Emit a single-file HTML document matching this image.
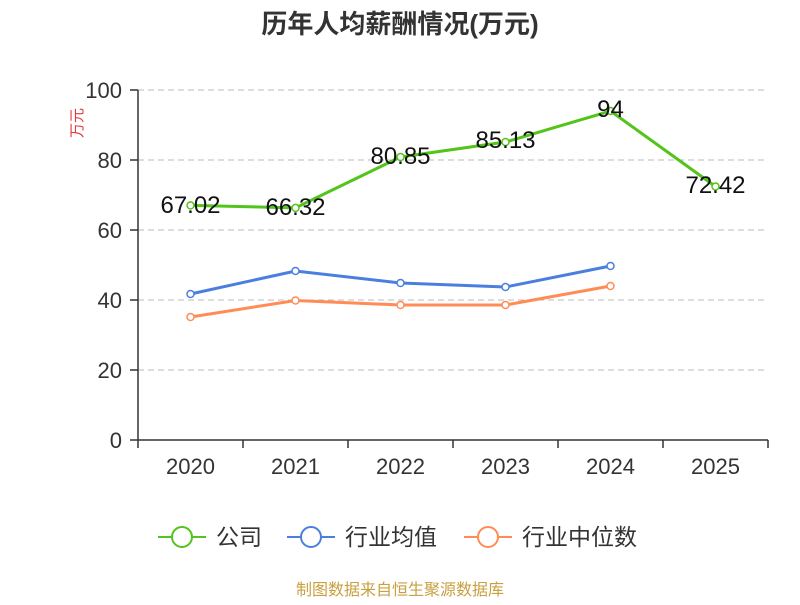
<!DOCTYPE html>
<html><head><meta charset="utf-8"><style>body{margin:0;background:#fff}</style></head><body>
<svg width="800" height="600" xmlns="http://www.w3.org/2000/svg" font-family="Liberation Sans, Noto Sans CJK SC, sans-serif">
<text x="400" y="33" text-anchor="middle" font-size="26" font-weight="bold" fill="#333">历年人均薪酬情况(万元)</text>
<text transform="translate(82,123) rotate(-90)" text-anchor="middle" font-size="15" fill="#e0393e">万元</text>
<g stroke="#bbb" stroke-dasharray="6,4">
<line x1="138" x2="768" y1="90" y2="90"/><line x1="138" x2="768" y1="160" y2="160"/><line x1="138" x2="768" y1="230" y2="230"/><line x1="138" x2="768" y1="300" y2="300"/><line x1="138" x2="768" y1="370" y2="370"/>
</g>
<g stroke="#333" stroke-width="1.5">
<line x1="138" x2="138" y1="90" y2="440"/><line x1="138" x2="768" y1="440" y2="440"/>
<line x1="130" x2="138" y1="90" y2="90"/><line x1="130" x2="138" y1="160" y2="160"/><line x1="130" x2="138" y1="230" y2="230"/><line x1="130" x2="138" y1="300" y2="300"/><line x1="130" x2="138" y1="370" y2="370"/><line x1="130" x2="138" y1="440" y2="440"/>
<line x1="138" x2="138" y1="440" y2="448"/><line x1="243" x2="243" y1="440" y2="448"/><line x1="348" x2="348" y1="440" y2="448"/><line x1="453" x2="453" y1="440" y2="448"/><line x1="558" x2="558" y1="440" y2="448"/><line x1="663" x2="663" y1="440" y2="448"/><line x1="768" x2="768" y1="440" y2="448"/>
</g>
<g font-size="22" fill="#333" text-anchor="end">
<text x="122" y="98">100</text><text x="122" y="168">80</text><text x="122" y="238">60</text><text x="122" y="308">40</text><text x="122" y="378">20</text><text x="122" y="448">0</text>
</g>
<g font-size="22" fill="#333" text-anchor="middle">
<text x="190.5" y="474">2020</text><text x="295.5" y="474">2021</text><text x="400.5" y="474">2022</text><text x="505.5" y="474">2023</text><text x="610.5" y="474">2024</text><text x="715.5" y="474">2025</text>
</g>
<g fill="none" stroke-width="3">
<polyline stroke="#52c41a" points="190.5,205.4 295.5,207.9 400.5,157 505.5,142 610.5,111 715.5,186.5"/>
<polyline stroke="#4a7fe0" points="190.5,294 295.5,271 400.5,283 505.5,287 610.5,266"/>
<polyline stroke="#ff8c55" points="190.5,317 295.5,300.5 400.5,305 505.5,305 610.5,286"/>
</g>
<g fill="#fff" stroke-width="1.5">
<g stroke="#52c41a"><circle cx="190.5" cy="205.4" r="3.5"/><circle cx="295.5" cy="207.9" r="3.5"/><circle cx="400.5" cy="157" r="3.5"/><circle cx="505.5" cy="142" r="3.5"/><circle cx="610.5" cy="111" r="3.5"/><circle cx="715.5" cy="186.5" r="3.5"/></g>
<g stroke="#4a7fe0"><circle cx="190.5" cy="294" r="3.5"/><circle cx="295.5" cy="271" r="3.5"/><circle cx="400.5" cy="283" r="3.5"/><circle cx="505.5" cy="287" r="3.5"/><circle cx="610.5" cy="266" r="3.5"/></g>
<g stroke="#ff8c55"><circle cx="190.5" cy="317" r="3.5"/><circle cx="295.5" cy="300.5" r="3.5"/><circle cx="400.5" cy="305" r="3.5"/><circle cx="505.5" cy="305" r="3.5"/><circle cx="610.5" cy="286" r="3.5"/></g>
</g>
<g font-size="24" fill="#111" text-anchor="middle">
<text x="190.5" y="213">67.02</text><text x="295.5" y="215">66.32</text><text x="400.5" y="164">80.85</text><text x="505.5" y="148">85.13</text><text x="610.5" y="117">94</text><text x="715.5" y="193">72.42</text>
</g>
<g stroke-width="2" fill="#fff">
<line x1="158" x2="206" y1="537" y2="537" stroke="#52c41a"/><circle cx="182" cy="537" r="10" stroke="#52c41a"/>
<line x1="287" x2="335" y1="537" y2="537" stroke="#4a7fe0"/><circle cx="311" cy="537" r="10" stroke="#4a7fe0"/>
<line x1="464" x2="512" y1="537" y2="537" stroke="#ff8c55"/><circle cx="488" cy="537" r="10" stroke="#ff8c55"/>
</g>
<g font-size="23" fill="#333">
<text x="216" y="545">公司</text><text x="345" y="545">行业均值</text><text x="522" y="545">行业中位数</text>
</g>
<text x="400" y="595" text-anchor="middle" font-size="16" fill="#c8a040">制图数据来自恒生聚源数据库</text>
</svg>
</body></html>
